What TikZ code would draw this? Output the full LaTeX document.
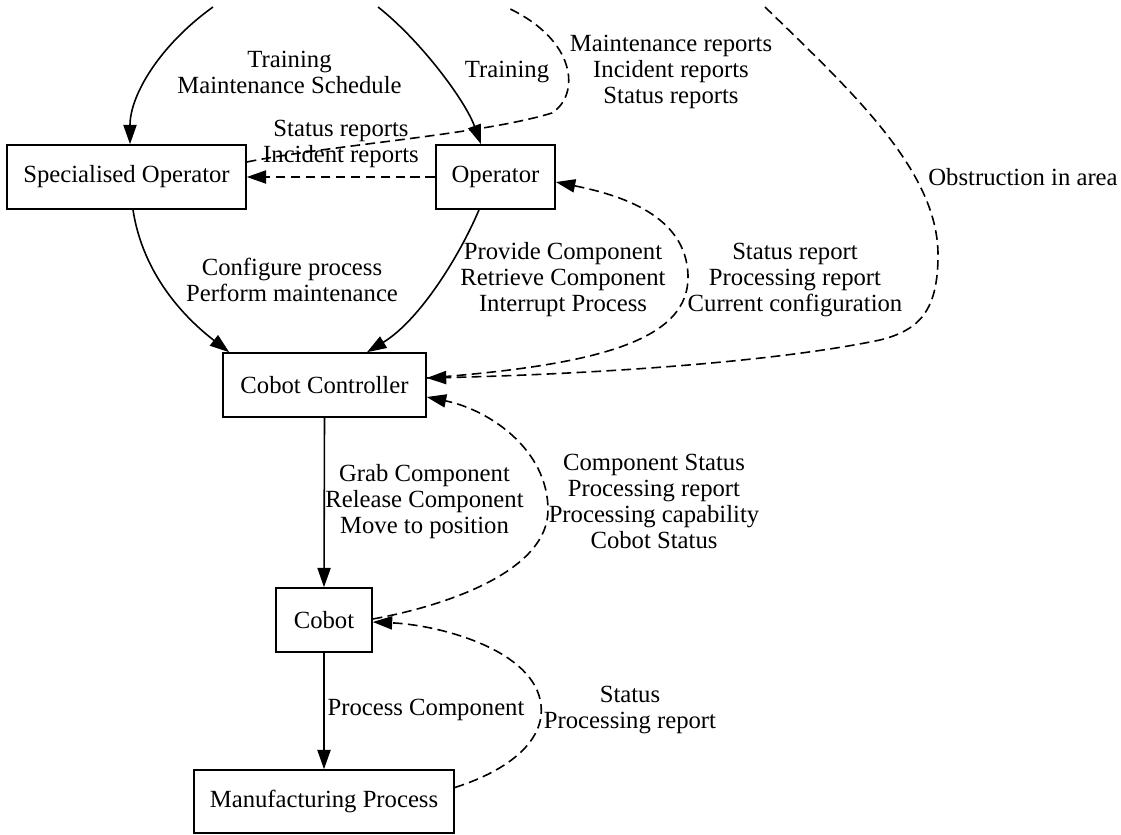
\documentclass[tikz,border=0pt]{standalone}
\usepackage{fontspec}
\setmainfont{Liberation Serif}
\usetikzlibrary{arrows.meta,calc}
\begin{document}
\begin{tikzpicture}[x=0.567pt,y=-0.567pt,
  box/.style={draw,line width=0.9pt,inner sep=0pt,minimum height=36.3pt,font=\fontsize{14pt}{14.74pt}\selectfont},
  lbl/.style={align=center,inner sep=0pt,font=\fontsize{14pt}{14.74pt}\selectfont},
  conn/.style={line width=0.9pt},
  dconn/.style={line width=0.9pt,dash pattern=on 5.5pt off 3pt},
  tip/.style={-{Triangle[length=11pt,width=7.5pt]}}]
\useasboundingbox (0,0) rectangle (1121,834);
% nodes
\node[box,minimum width=135.5pt] (so) at (126.5,177) {Specialised Operator};
\node[box,minimum width=67.5pt] (op) at (495.5,177) {Operator};
\node[box,minimum width=115.1pt] (cc) at (324.5,385) {Cobot Controller};
\node[box,minimum width=54.4pt] (cb) at (324,620) {Cobot};
\node[box,minimum width=147.4pt,minimum height=35.7pt] (mp) at (324,801.5) {Manufacturing Process};
% free ends at the top
\coordinate (t1) at (213,7);
\coordinate (t2) at (378,7);
\coordinate (t3) at (506,7);
\coordinate (t4) at (765,7);
% labels
\node[lbl] (l1) at (289.5,72) {Training\\Maintenance Schedule};
\node[lbl] (l2) at (507,72) {Training};
\node[lbl] (l3) at (671,72) {Maintenance reports\\Incident reports\\Status reports};
\node[lbl] (l4) at (341,144) {Status reports\\Incident reports};
\node[lbl] (l5) at (292,280) {Configure process\\Perform maintenance};
\node[lbl] (l6) at (563,280) {Provide Component\\Retrieve Component\\Interrupt Process};
\node[lbl] (l7) at (795,280) {Status report\\Processing report\\Current configuration};
\node[lbl] (l8) at (1023,177) {Obstruction in area};
\node[lbl] (l9) at (424.5,502) {Grab Component\\Release Component\\Move to position};
\node[lbl] (l10) at (654,501) {Component Status\\Processing report\\Processing capability\\Cobot Status};
\node[lbl] (l11) at (426,710) {Process Component};
\node[lbl] (l12) at (630,710) {Status\\Processing report};
% connectors
\draw[conn,tip] (t1) .. controls (160,45) and (130,95) .. ($(so.north)+(3.5,0)$);
\draw[conn,tip] (t2) .. controls (420,40) and (465,100) .. ($(op.north)+(-14.5,0)$);
\draw[dconn] ($(so.east)+(0,-15)$) .. controls (330,145) and (480,135) .. (552,113)
  .. controls (580,95) and (578,40) .. (t3);
\draw[dconn,tip] (op.west) -- (so.east);
\draw[conn,tip] ($(so.south)+(6.5,0)$) .. controls (143,275) and (185,318) .. ($(cc.north west)+(7,0)$);
\draw[conn,tip] ($(op.south)+(-16.5,0)$) .. controls (460,255) and (420,320) .. ($(cc.north)+(42.5,0)$);
\draw[dconn,tip] ($(cc.east)+(0,-7)$) .. controls (600,365) and (690,340) .. (688,275)
  .. controls (686,215) and (620,195) .. ($(op.east)+(0,5)$);
\draw[dconn,tip] (t4) .. controls (850,90) and (938,170) .. (938,255)
  .. controls (938,310) and (920,330) .. (880,340)
  .. controls (760,365) and (560,375) .. ($(cc.east)+(0,-7)$);
\draw[conn,tip] (cc.south) -- (cb.north);
\draw[dconn,tip] ($(cb.east)+(0,-1)$) .. controls (450,605) and (548,570) .. (548,510)
  .. controls (548,450) and (490,410) .. ($(cc.east)+(0,12)$);
\draw[conn,tip] (cb.south) -- (mp.north);
\draw[dconn,tip] ($(mp.east)+(0,-14)$) .. controls (510,770) and (545,740) .. (541,705)
  .. controls (535,650) and (440,625) .. ($(cb.east)+(0,2)$);
\end{tikzpicture}
\end{document}
